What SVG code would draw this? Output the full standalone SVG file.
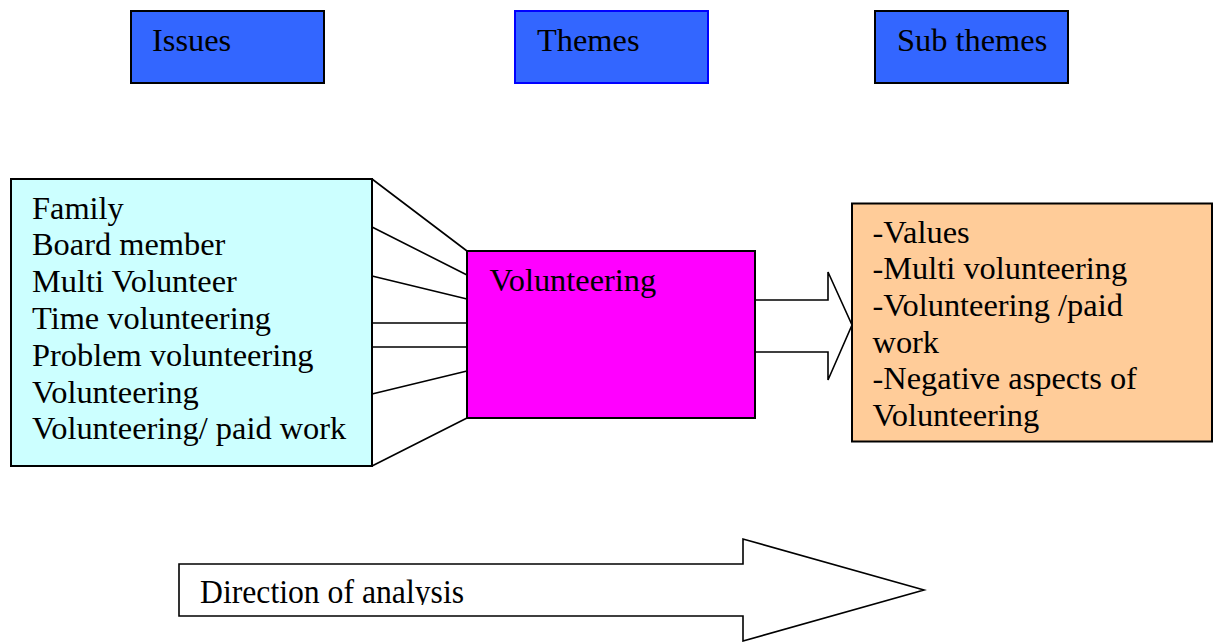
<svg xmlns="http://www.w3.org/2000/svg" width="1215" height="642" viewBox="0 0 1215 642">
<style>
text{font-family:"Liberation Serif","Times New Roman",serif;font-size:32.4px;fill:#000}
.hdr{fill:#3366FF;stroke:#000;stroke-width:2}
.ln{stroke:#000;stroke-width:1.6;fill:none}
</style>
<defs>
<clipPath id="dirclip"><rect x="180" y="565" width="600" height="40"/></clipPath>
</defs>
<rect width="1215" height="642" fill="#fff"/>
<g id="issues-hdr">
<rect class="hdr" x="131" y="11" width="193" height="72"/>
<text x="152" y="51">Issues</text>
</g>
<g id="themes-hdr">
<rect class="hdr" x="515" y="11" width="193" height="72" style="stroke:#0000FF"/>
<text x="537" y="51">Themes</text>
</g>
<g id="subthemes-hdr">
<rect class="hdr" x="875" y="11" width="193" height="72"/>
<text x="897" y="51">Sub themes</text>
</g>
<g id="connectors">
<path class="ln" d="M372,179 L467,251 M372,227 L467,275 M372,276 L467,299 M372,323 L467,323 M372,347 L467,347 M372,394 L467,371 M372,466 L467,418"/>
<path class="ln" fill="#fff" d="M740,300 L828,300 L828,272 L852,325 L828,380 L828,352 L740,352"/>
</g>
<g id="issues">
<rect x="11" y="179" width="361" height="287" fill="#CCFFFF" stroke="#000" stroke-width="2"/>
<text x="32" y="218.5">Family</text>
<text x="32" y="255.3">Board member</text>
<text x="32" y="292.1">Multi Volunteer</text>
<text x="32" y="328.9">Time volunteering</text>
<text x="32" y="365.7">Problem volunteering</text>
<text x="32" y="402.5">Volunteering</text>
<text x="32" y="439.3">Volunteering/ paid work</text>
</g>
<g id="theme">
<rect x="467" y="251" width="288" height="167" fill="#FF00FF" stroke="#000" stroke-width="2"/>
<text x="489.5" y="290.5">Volunteering</text>
</g>
<g id="subthemes">
<rect x="852" y="203.5" width="360" height="238" fill="#FFCC99" stroke="#000" stroke-width="2"/>
<text x="872.5" y="242.5">-Values</text>
<text x="872.5" y="279.2">-Multi volunteering</text>
<text x="872.5" y="315.9">-Volunteering /paid</text>
<text x="872.5" y="352.6">work</text>
<text x="872.5" y="389.3">-Negative aspects of</text>
<text x="872.5" y="426">Volunteering</text>
</g>
<g id="direction">
<path class="ln" fill="#fff" d="M179,564 L743,564 L743,539 L924,590 L743,641 L743,616 L179,616 Z"/>
<g clip-path="url(#dirclip)">
<text transform="translate(200,603) scale(1,1.08)" x="0" y="0" style="font-size:31.7px">Direction of analysis</text>
</g>
</g>
</svg>
